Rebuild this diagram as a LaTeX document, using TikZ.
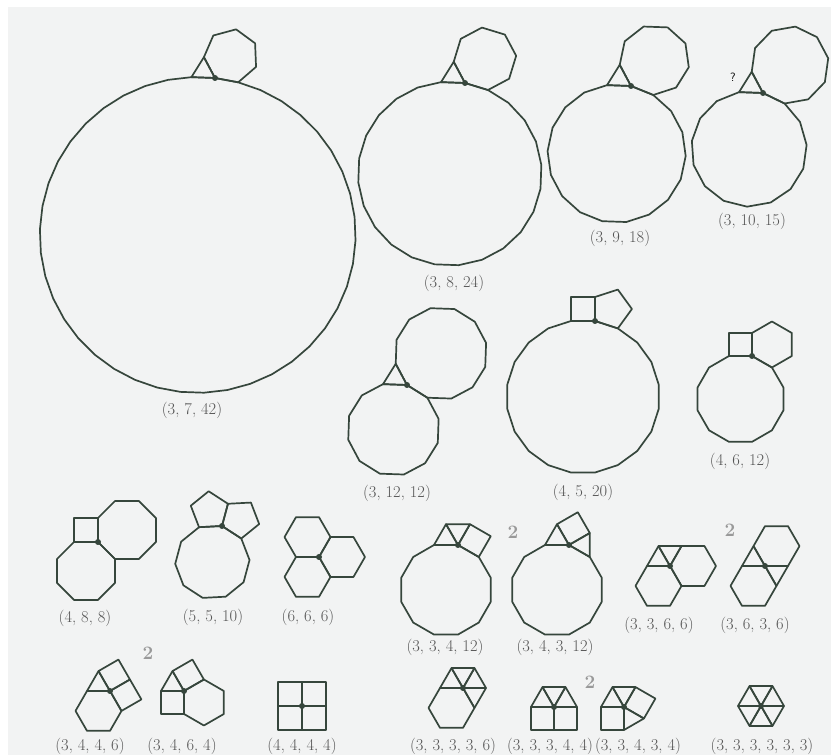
\documentclass[tikz,border=0pt]{standalone}
\usepackage{tikz}
\definecolor{my_line}{HTML}{36463C}
\definecolor{my_text}{HTML}{555555}
\definecolor{my_bg}{HTML}{F2F3F3}

% vertex figure: #1 vertex, #2 side, #3 start angle, #4 polygons counter-clockwise
\newcommand{\vfig}[4]{%
  \foreach \n [remember=\b as \a (initially #3), evaluate=\n as \b using \a+180-360/\n] in {#4} {
    \pgfmathtruncatemacro\m{\n-1}
    \draw[poly] (#1) foreach \k in {1,...,\m} { -- ++({\a+(\k-1)*360/\n}:#2) } -- cycle;
  }
  \fill[my_line] (#1) circle (3pt);
}

\begin{document}
\begin{tikzpicture}[
    x=1pt, y=1pt,
    poly/.style={draw=my_line, line width=1.7pt, line join=round},
    lbl/.style={text=my_text, font=\fontsize{16.5}{18}\selectfont, inner sep=0pt},
    twice/.style={text=my_text!60, font=\bfseries\fontsize{19}{21}\selectfont, inner sep=0pt}
]
\useasboundingbox (0,0) rectangle (831,755);
\fill[my_bg] (8,0) rectangle (831,748);

% ===== three polygons =====
\coordinate (v1) at (215,677);
\coordinate (v2) at (465,672);
\coordinate (v3) at (631,669);
\coordinate (v4) at (763,662);
\coordinate (v5) at (407,370);
\coordinate (v6) at (595,434);
\coordinate (v7) at (752,399);
\coordinate (v8) at (98,213);
\coordinate (v9) at (222,229);
\coordinate (v10) at (319,198);

\vfig{v1}{23.6}{118}{3,42,7}
\vfig{v2}{24}{118}{3,24,8}
\vfig{v3}{24}{118}{3,18,9}
\vfig{v4}{24}{118}{3,15,10}
\vfig{v5}{24}{118}{3,12,12}
\vfig{v6}{24}{90}{4,20,5}
\vfig{v7}{23}{90}{4,12,6}
\vfig{v8}{24}{90}{4,8,8}
\vfig{v9}{23}{75}{5,10,5}
\vfig{v10}{23}{60}{6,6,6}

\node[font=\sffamily\fontsize{12}{14}\selectfont, inner sep=0pt] (qm) at (733,678) {?};

\node[lbl] (l1) at (192,345) {(3, 7, 42)};
\node[lbl] (l2) at (454,472) {(3, 8, 24)};
\node[lbl] (l3) at (620,517) {(3, 9, 18)};
\node[lbl] (l4) at (752,534) {(3, 10, 15)};
\node[lbl] (l5) at (397,262) {(3, 12, 12)};
\node[lbl] (l6) at (583,263) {(4, 5, 20)};
\node[lbl] (l7) at (740,294) {(4, 6, 12)};
\node[lbl] (l8) at (85,137) {(4, 8, 8)};
\node[lbl] (l9) at (213,138) {(5, 5, 10)};
\node[lbl] (l10) at (308,138) {(6, 6, 6)};

% ===== four and more polygons =====
\coordinate (v11) at (458,210);
\coordinate (v12) at (569,210);
\coordinate (v13) at (670,189);
\coordinate (v14) at (765,189);
\coordinate (v15) at (110,64);
\coordinate (v16) at (184,64);
\coordinate (v17) at (302,49);
\coordinate (v18) at (463,67);
\coordinate (v19) at (554,48);
\coordinate (v20) at (624,48);
\coordinate (v21) at (761,49);

\vfig{v11}{24}{60}{3,3,12,4}
\vfig{v12}{24}{120}{3,12,3,4}
\vfig{v13}{23}{60}{3,3,6,6}
\vfig{v14}{23}{0}{6,3,6,3}
\vfig{v15}{23}{120}{3,6,4,4}
\vfig{v16}{23}{120}{3,4,6,4}
\vfig{v17}{24}{0}{4,4,4,4}
\vfig{v18}{23}{120}{3,6,3,3,3}
\vfig{v19}{23}{0}{3,3,3,4,4}
\vfig{v20}{23}{120}{3,4,3,4,3}
\vfig{v21}{23}{0}{3,3,3,3,3,3}

\node[twice] (t1) at (513,223) {2};
\node[twice] (t2) at (730,225) {2};
\node[twice] (t3) at (148,102) {2};
\node[twice] (t4) at (590,73) {2};

\node[lbl] (l11) at (445,108) {(3, 3, 4, 12)};
\node[lbl] (l12) at (555,108) {(3, 4, 3, 12)};
\node[lbl] (l13) at (659,130) {(3, 3, 6, 6)};
\node[lbl] (l14) at (755,130) {(3, 6, 3, 6)};
\node[lbl] (l15) at (90,9) {(3, 4, 4, 6)};
\node[lbl] (l16) at (182,9) {(3, 4, 6, 4)};
\node[lbl] (l17) at (302,9) {(4, 4, 4, 4)};
\node[lbl] (l18) at (453,9) {(3, 3, 3, 3, 6)};
\node[lbl] (l19) at (550,9) {(3, 3, 3, 4, 4)};
\node[lbl] (l20) at (638,9) {(3, 3, 4, 3, 4)};
\node[lbl] (l21) at (762,9) {(3, 3, 3, 3, 3, 3)};

\end{tikzpicture}
\end{document}
